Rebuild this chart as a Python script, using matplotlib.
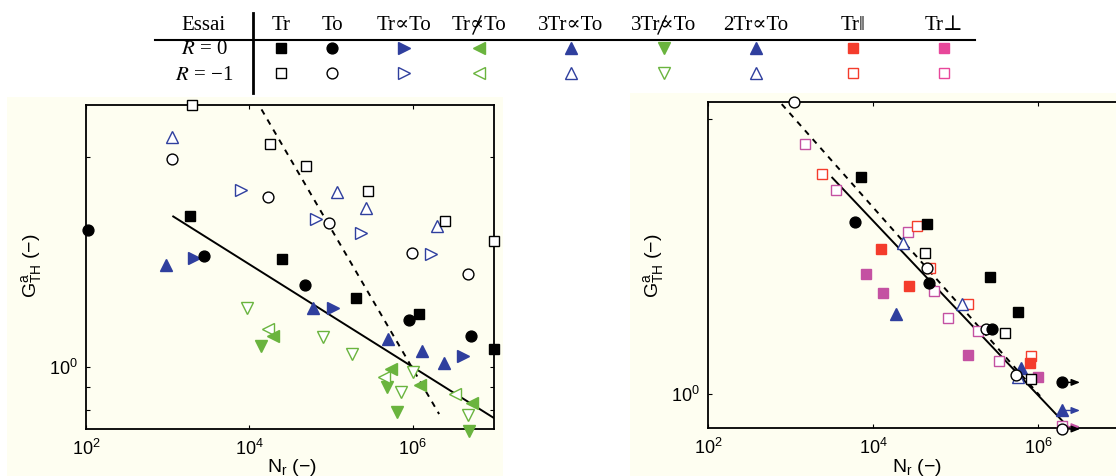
import matplotlib
matplotlib.use('Agg')
import matplotlib.pyplot as plt
from matplotlib.lines import Line2D
from matplotlib.patches import Rectangle
import matplotlib.ticker as mticker

# ---------------- data (left panel) ----------------
tr_r0_N = [1.9e3, 2.5e4, 2.0e5, 1.2e6, 1.0e7]
tr_r0_G = [2.20, 1.76, 1.44, 1.32, 1.10]
tr_rm1_N = [2.0e3, 1.77e4, 5.0e4, 2.85e5, 2.5e6, 1.0e7]
tr_rm1_G = [3.94, 3.22, 2.86, 2.51, 2.15, 1.94]
to_r0_N = [1.06e2, 2.8e3, 4.8e4, 8.9e5, 5.2e6]
to_r0_G = [2.05, 1.79, 1.54, 1.28, 1.18]
to_rm1_N = [1.14e3, 1.7e4, 9.5e4, 9.8e5, 4.7e6]
to_rm1_G = [2.97, 2.44, 2.13, 1.82, 1.63]
prop_r0_N = [2.1e3, 1.06e5, 4.15e6]
prop_r0_G = [1.77, 1.36, 1.06]
prop_rm1_N = [7.8e3, 6.5e4, 2.3e5, 1.7e6]
prop_rm1_G = [2.53, 2.17, 2.02, 1.81]
nprop_r0_N = [1.96e4, 5.5e5, 1.22e6, 5.4e6]
nprop_r0_G = [1.18, 0.99, 0.91, 0.83]
nprop_rm1_N = [1.68e4, 4.4e5, 3.3e6]
nprop_rm1_G = [1.22, 0.95, 0.87]
prop3_r0_N = [9.5e2, 6.1e4, 5.0e5, 1.32e6, 2.4e6]
prop3_r0_G = [1.71, 1.36, 1.16, 1.09, 1.02]
prop3_rm1_N = [1.14e3, 1.2e5, 2.7e5, 2.0e6]
prop3_rm1_G = [3.34, 2.50, 2.30, 2.09]
nprop3_r0_N = [1.4e4, 4.8e5, 6.5e5, 4.9e6]
nprop3_r0_G = [1.12, 0.90, 0.79, 0.718]
nprop3_rm1_N = [9.3e3, 8.0e4, 1.8e5, 1.0e6, 7.2e5, 4.7e6]
nprop3_rm1_G = [1.36, 1.17, 1.07, 0.976, 0.88, 0.78]
fitL_solid_N = [1.17e3, 1.0e7]
fitL_solid_G = [2.20, 0.766]
fitL_dash_N = [1.41e4, 2.11e6]
fitL_dash_G = [3.85, 0.783]

# ---------------- data (right panel) ----------------
R_to_rm1_N = [1.1e3, 4.5e4, 2.3e5, 5.4e5, 1.95e6]
R_to_rm1_G = [4.36, 1.89, 1.39, 1.10, 0.84]
R_to_r0_N = [6.0e3, 4.7e4, 2.75e5, 1.95e6]
R_to_r0_G = [2.38, 1.75, 1.39, 1.06]
R_tr_r0_N = [7.0e3, 4.5e4, 2.6e5, 5.6e5]
R_tr_r0_G = [2.98, 2.36, 1.80, 1.51]
R_tr_rm1_N = [4.2e4, 3.95e5, 8.2e5]
R_tr_rm1_G = [2.03, 1.36, 1.08]
R_par_r0_N = [1.24e4, 2.7e4, 7.9e5]
R_par_r0_G = [2.08, 1.72, 1.17]
R_par_rm1_N = [2.4e3, 3.4e4, 4.9e4, 1.4e5, 8.2e5]
R_par_rm1_G = [3.03, 2.33, 1.89, 1.57, 1.21]
R_perp_r0_N = [8.1e3, 1.3e4, 1.4e5, 1.0e6]
R_perp_r0_G = [1.83, 1.66, 1.22, 1.09]
R_perp_rm1_N = [1.5e3, 3.5e3, 2.6e4, 5.5e4, 8.0e4, 1.86e5, 3.3e5, 1.95e6]
R_perp_rm1_G = [3.53, 2.79, 2.26, 1.68, 1.47, 1.37, 1.18, 0.85]
R_prop2_r0_N = [1.9e4, 6.1e5, 1.96e6]
R_prop2_r0_G = [1.50, 1.14, 0.92]
R_prop2_rm1_N = [2.3e4, 1.2e5, 5.7e5]
R_prop2_rm1_G = [2.14, 1.57, 1.09]
fitR_solid_N = [3.18e3, 2.38e6]
fitR_solid_G = [2.975, 0.841]
fitR_dash_N = [7.76e2, 1.05e6]
fitR_dash_G = [4.31, 0.99]
runout_N_start = [1.95e6, 1.96e6, 1.95e6, 1.95e6]
runout_N_end = [3.2e6, 3.2e6, 3.2e6, 3.2e6]
runout_G = [1.06, 0.92, 0.848, 0.838]

# table
col_labels = ['Tr', 'To', 'Tr\u221dTo', 'Tr\u221dTo', '3Tr\u221dTo', '3Tr\u221dTo',
              '2Tr\u221dTo', 'Tr\u2016', 'Tr\u22a5']
col_negated = [False, False, False, True, False, True, False, False, False]
row_labels = ['$R$ = 0', '$R$ = \u22121']

# ---------------- styling ----------------
BLUE = '#2f3f9e'
GREEN = '#6ab43e'
RED = '#f43c2c'
MAG = '#c451a2'
CREAM = '#fefef1'
SERIF = ['Liberation Serif', 'DejaVu Serif']

plt.rcParams['font.family'] = ['Liberation Sans', 'DejaVu Sans']
plt.rcParams['mathtext.fontset'] = 'custom'
plt.rcParams['mathtext.rm'] = 'Liberation Sans'
plt.rcParams['mathtext.it'] = 'Liberation Sans:italic'
plt.rcParams['mathtext.bf'] = 'Liberation Sans:bold'

W, H = 1116, 476
fig = plt.figure(figsize=(W / 100, H / 100), dpi=100)
fig.patch.set_facecolor('white')


def fx(px):
    return px / W


def fy(py):
    return 1 - py / H


fig.add_artist(Rectangle((fx(7), 0), fx(503) - fx(7), fy(97), transform=fig.transFigure,
                         fc=CREAM, ec='none', zorder=-5))
fig.add_artist(Rectangle((fx(630), 0), 1 - fx(630), fy(93), transform=fig.transFigure,
                         fc=CREAM, ec='none', zorder=-5))

ax1 = fig.add_axes([fx(86), fy(429.3), (494.3 - 86) / W, (429.3 - 105) / H])
ax2 = fig.add_axes([fx(708.3), fy(428.3), (1120.8 - 708.3) / W, (428.3 - 102.3) / H])

MS = dict(s=7.0, o=7.8, tri=8.6)


def series(ax, N, G, marker, color, filled, size):
    ax.plot(N, G, ls='none', marker=marker, ms=size,
            mfc=color if filled else 'white', mec=color,
            mew=1.0, clip_on=False, zorder=5)


for ax, ylim, minors in [(ax1, (0.723, 3.94), [0.8, 0.9, 3]), (ax2, (0.841, 4.35), [4])]:
    ax.set_facecolor(CREAM)
    ax.set_xscale('log')
    ax.set_yscale('log')
    ax.set_xlim(1e2, 1e7)
    ax.set_ylim(*ylim)
    ax.xaxis.set_major_locator(mticker.FixedLocator([1e2, 1e4, 1e6]))
    ax.xaxis.set_minor_locator(mticker.NullLocator())
    ax.xaxis.set_major_formatter(mticker.FixedFormatter(['$10^{2}$', '$10^{4}$', '$10^{6}$']))
    ax.yaxis.set_major_locator(mticker.FixedLocator([1.0]))
    ax.yaxis.set_major_formatter(mticker.FixedFormatter(['$10^{0}$']))
    ax.yaxis.set_minor_locator(mticker.FixedLocator(minors))
    ax.yaxis.set_minor_formatter(mticker.NullFormatter())
    ax.tick_params(which='both', direction='in', top=True, right=True, length=3,
                   width=0.8, labelsize=13, colors='black')
    ax.tick_params(axis='x', pad=7)
    ax.tick_params(axis='y', pad=6)
    for sp in ax.spines.values():
        sp.set_linewidth(1.3)

# left panel
ax1.plot(fitL_solid_N, fitL_solid_G, color='black', lw=1.4, zorder=3)
ax1.plot(fitL_dash_N, fitL_dash_G, color='black', lw=1.4, ls=(0, (3, 3)), zorder=3)
series(ax1, nprop3_rm1_N, nprop3_rm1_G, 'v', GREEN, False, MS['tri'])
series(ax1, nprop3_r0_N, nprop3_r0_G, 'v', GREEN, True, MS['tri'])
series(ax1, nprop_rm1_N, nprop_rm1_G, '<', GREEN, False, MS['tri'])
series(ax1, nprop_r0_N, nprop_r0_G, '<', GREEN, True, MS['tri'])
series(ax1, prop3_rm1_N, prop3_rm1_G, '^', BLUE, False, MS['tri'])
series(ax1, prop3_r0_N, prop3_r0_G, '^', BLUE, True, MS['tri'])
series(ax1, prop_rm1_N, prop_rm1_G, '>', BLUE, False, MS['tri'])
series(ax1, prop_r0_N, prop_r0_G, '>', BLUE, True, MS['tri'])
series(ax1, tr_rm1_N, tr_rm1_G, 's', 'black', False, MS['s'])
series(ax1, tr_r0_N, tr_r0_G, 's', 'black', True, MS['s'])
series(ax1, to_rm1_N, to_rm1_G, 'o', 'black', False, MS['o'])
series(ax1, to_r0_N, to_r0_G, 'o', 'black', True, MS['o'])

# right panel
ax2.plot(fitR_solid_N, fitR_solid_G, color='black', lw=1.4, zorder=3)
ax2.plot(fitR_dash_N, fitR_dash_G, color='black', lw=1.4, ls=(0, (3, 3)), zorder=3)
run_colors = ['black', BLUE, MAG, 'black']
for n0, n1, g, c in zip(runout_N_start, runout_N_end, runout_G, run_colors):
    ax2.annotate('', xy=(n1, g), xytext=(n0, g), annotation_clip=False,
                 arrowprops=dict(arrowstyle='-|>,head_length=0.5,head_width=0.2',
                                 color=c, lw=1.0, shrinkA=0, shrinkB=0), zorder=4)
series(ax2, R_perp_rm1_N, R_perp_rm1_G, 's', MAG, False, MS['s'])
series(ax2, R_perp_r0_N, R_perp_r0_G, 's', MAG, True, MS['s'])
series(ax2, R_par_rm1_N, R_par_rm1_G, 's', RED, False, MS['s'])
series(ax2, R_par_r0_N, R_par_r0_G, 's', RED, True, MS['s'])
series(ax2, R_prop2_rm1_N, R_prop2_rm1_G, '^', BLUE, False, MS['tri'])
series(ax2, R_prop2_r0_N, R_prop2_r0_G, '^', BLUE, True, MS['tri'])
series(ax2, R_tr_rm1_N, R_tr_rm1_G, 's', 'black', False, MS['s'])
series(ax2, R_tr_r0_N, R_tr_r0_G, 's', 'black', True, MS['s'])
series(ax2, R_to_rm1_N, R_to_rm1_G, 'o', 'black', False, MS['o'])
series(ax2, R_to_r0_N, R_to_r0_G, 'o', 'black', True, MS['o'])

# axis labels
for xl, yl_x in [(292, 31), (917, 653)]:
    fig.text(fx(xl), fy(467), 'N$\\mathregular{_r}$ (\u2212)', ha='center', va='center', fontsize=14)
    fig.text(fx(yl_x), fy(266), '$\\mathregular{G^{a}_{TH}}$ (\u2212)',
             ha='center', va='center', rotation=90, fontsize=14)

# ---------------- table legend ----------------
col_x = [281, 332, 404, 479, 571, 664, 756, 853, 944]
row_y = [48, 73]
head_y = 25
fig.text(fx(203), fy(head_y), 'Essai', ha='center', va='center', fontsize=15, family=SERIF)
for lab, neg, x in zip(col_labels, col_negated, col_x):
    fig.text(fx(x), fy(head_y), lab, ha='center', va='center', fontsize=15, family=SERIF)
    if neg:
        fig.add_artist(Line2D([fx(x - 6), fx(x + 2)], [fy(34), fy(16)],
                              transform=fig.transFigure, color='black', lw=1.0))
for lab, y in zip(row_labels, row_y):
    fig.text(fx(204), fy(y + 2), lab, ha='center', va='center', fontsize=15, family=SERIF,
             math_fontfamily='stix')
fig.add_artist(Line2D([fx(155), fx(975)], [fy(40), fy(40)], transform=fig.transFigure,
                      color='black', lw=1.5))
fig.add_artist(Line2D([fx(253), fx(253)], [fy(13), fy(93)], transform=fig.transFigure,
                      color='black', lw=2.0))

leg_markers = [('s', 'black', MS['s']), ('o', 'black', MS['o']), ('>', BLUE, MS['tri']),
               ('<', GREEN, MS['tri']), ('^', BLUE, MS['tri']), ('v', GREEN, MS['tri']),
               ('^', BLUE, MS['tri']), ('s', RED, MS['s']), ('s', '#e8479a', MS['s'])]
for (m, c, s), x in zip(leg_markers, col_x):
    for filled, y in zip([True, False], row_y):
        fig.add_artist(Line2D([fx(x)], [fy(y)], transform=fig.transFigure, ls='none',
                              marker=m, ms=s, mfc=c if filled else 'white', mec=c, mew=1.0))

fig.savefig('out.png', dpi=100, facecolor='white')
